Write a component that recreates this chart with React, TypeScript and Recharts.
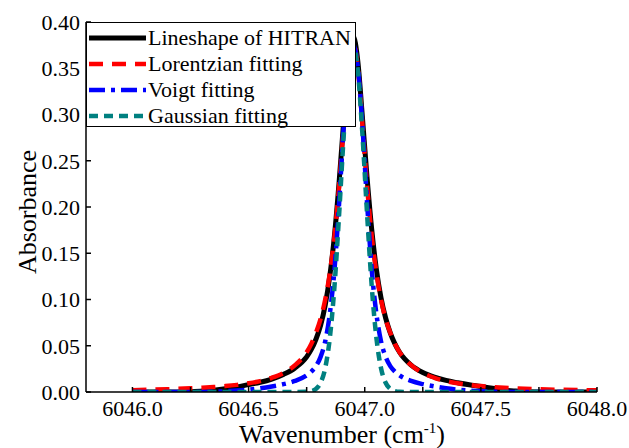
import React from "react";
import { LineChart, Line, XAxis, YAxis } from "recharts";

// wavenumber grid (cm-1), finer around the line centre
const wavenumber = [
  6046.0, 6046.15, 6046.25, 6046.3, 6046.35, 6046.4, 6046.45, 6046.5, 6046.55, 6046.6,
  6046.65, 6046.7, 6046.75, 6046.77, 6046.79, 6046.81, 6046.83, 6046.85, 6046.87, 6046.89,
  6046.91, 6046.93, 6046.95, 6046.97, 6046.99, 6047.01, 6047.03, 6047.05, 6047.07, 6047.09,
  6047.11, 6047.13, 6047.15, 6047.2, 6047.25, 6047.3, 6047.35, 6047.4, 6047.45, 6047.5,
  6047.55, 6047.6, 6047.65, 6047.75, 6047.85, 6047.95, 6048.0,
];

const hitran = [
  0, 0, 0.0003, 0.001, 0.002, 0.0035, 0.0055, 0.008, 0.0105, 0.014,
  0.019, 0.026, 0.038, 0.046, 0.057, 0.072, 0.094, 0.126, 0.17, 0.228,
  0.295, 0.358, 0.385, 0.358, 0.297, 0.232, 0.176, 0.133, 0.102, 0.08,
  0.064, 0.052, 0.043, 0.029, 0.021, 0.016, 0.0125, 0.01, 0.0078, 0.006,
  0.004, 0.002, 0.001, 0, 0, 0, 0,
];

const lorentzian = [
  0.0019, 0.003, 0.004, 0.0046, 0.0054, 0.0064, 0.0077, 0.0094, 0.0118, 0.0154,
  0.0206, 0.029, 0.043, 0.052, 0.064, 0.079, 0.1, 0.129, 0.169, 0.223,
  0.289, 0.351, 0.378, 0.351, 0.289, 0.223, 0.169, 0.129, 0.1, 0.079,
  0.064, 0.052, 0.043, 0.029, 0.0206, 0.0154, 0.0118, 0.0094, 0.0077, 0.0064,
  0.0054, 0.0046, 0.004, 0.003, 0.0024, 0.002, 0.0018,
];

const voigt = [
  0, 0, 0, 0, 0.0003, 0.0008, 0.0015, 0.0025, 0.004, 0.006,
  0.0085, 0.012, 0.018, 0.022, 0.028, 0.038, 0.055, 0.085, 0.133, 0.205,
  0.288, 0.352, 0.376, 0.352, 0.288, 0.205, 0.133, 0.085, 0.055, 0.038,
  0.028, 0.022, 0.018, 0.012, 0.0085, 0.006, 0.004, 0.0025, 0.0015, 0.0008,
  0.0003, 0, 0, 0, 0, 0, 0,
];

const gaussian = [
  0, 0, 0, 0, 0, 0, 0, 0, 0, 0,
  0, 0, 0.0002, 0.0009, 0.0033, 0.01, 0.026, 0.059, 0.115, 0.193,
  0.279, 0.348, 0.375, 0.348, 0.279, 0.193, 0.115, 0.059, 0.026, 0.01,
  0.0033, 0.0009, 0.0002, 0, 0, 0, 0, 0, 0, 0,
  0, 0, 0, 0, 0, 0, 0,
];

const xTicks = [6046.0, 6046.25, 6046.5, 6046.75, 6047.0, 6047.25, 6047.5, 6047.75, 6048.0];
const yTicks = [0, 0.05, 0.1, 0.15, 0.2, 0.25, 0.3, 0.35, 0.4];
const frameTicks = [0, 1, 2, 3, 4, 5, 6, 7, 8, 9, 10];

const series = [
  { key: "hitran", name: "Lineshape of HITRAN", color: "#000000", dash: undefined, width: 5 },
  { key: "lorentzian", name: "Lorentzian fitting", color: "#ff0000", dash: "14 9", width: 4.5 },
  { key: "voigt", name: "Voigt fitting", color: "#0000ff", dash: "16 6 4 6", width: 4.5 },
  { key: "gaussian", name: "Gaussian fitting", color: "#008080", dash: "9 6", width: 4.5 },
];

const data = wavenumber.map((x, i) => ({
  x,
  hitran: hitran[i],
  lorentzian: lorentzian[i],
  voigt: voigt[i],
  gaussian: gaussian[i],
}));

const FONT = '"Liberation Serif", "Times New Roman", serif';

// bottom labels only on the half-unit ticks
const XTick = (props: any) => {
  const v = props.payload.value;
  if ((v * 2) % 1 !== 0) return <g />;
  return (
    <text x={props.x} y={props.y} dy="0.71em" textAnchor="middle" fontFamily={FONT} fontSize={22} fill="#000">
      {v.toFixed(1)}
    </text>
  );
};

const YTick = (props: any) => (
  <text x={props.x} y={props.y} dy="0.355em" textAnchor="end" fontFamily={FONT} fontSize={22} fill="#000">
    {props.payload.value.toFixed(2)}
  </text>
);

const LegendBox = () => (
  <div
    style={{
      position: "absolute",
      left: 86,
      top: 22,
      width: 270,
      height: 105,
      border: "1px solid #000",
      boxSizing: "border-box",
      background: "#fff",
      paddingTop: 2,
    }}
  >
    {series.map((s) => (
      <div key={s.key} style={{ display: "flex", alignItems: "center", height: 26 }}>
        <svg width={60} height={26} style={{ flex: "none" }}>
          <line
            x1={2}
            x2={59}
            y1={13}
            y2={13}
            stroke={s.color}
            strokeWidth={s.width}
            strokeDasharray={s.dash}
          />
        </svg>
        <span style={{ fontFamily: FONT, fontSize: 22, lineHeight: "26px", marginLeft: 1, whiteSpace: "nowrap" }}>
          {s.name}
        </span>
      </div>
    ))}
  </div>
);

export default function App() {
  return (
    <div style={{ position: "absolute", left: 0, top: 0, width: 629, height: 448, background: "#fff" }}>
      <LineChart width={629} height={448} data={data} margin={{ top: 22, right: 32, bottom: 0, left: 0 }}>
        <XAxis
          dataKey="x"
          type="number"
          domain={[6045.8, 6048.0]}
          allowDataOverflow
          ticks={xTicks}
          height={56}
          tickSize={-5}
          tickMargin={13}
          tick={<XTick />}
          stroke="#000"
          strokeWidth={1.5}
        />
        <XAxis
          xAxisId="top"
          orientation="top"
          type="number"
          domain={[0, 10]}
          allowDataOverflow
          ticks={frameTicks}
          tickFormatter={() => ""}
          height={0}
          tickSize={-5}
          stroke="#000"
          strokeWidth={1.5}
        />
        <YAxis
          type="number"
          domain={[0, 0.4]}
          allowDataOverflow
          ticks={yTicks}
          width={86}
          tickSize={-5}
          tickMargin={11}
          tick={<YTick />}
          stroke="#000"
          strokeWidth={1.5}
        />
        <YAxis
          yAxisId="right"
          orientation="right"
          type="number"
          domain={[0, 10]}
          allowDataOverflow
          ticks={frameTicks}
          tickFormatter={() => ""}
          width={0}
          tickSize={-5}
          stroke="#000"
          strokeWidth={1.5}
        />
        {series.map((s) => (
          <Line
            key={s.key}
            dataKey={s.key}
            name={s.name}
            type="monotone"
            stroke={s.color}
            strokeWidth={s.width}
            strokeDasharray={s.dash}
            dot={false}
            activeDot={false}
            isAnimationActive={false}
          />
        ))}
      </LineChart>
      <LegendBox />
      <div
        style={{
          position: "absolute",
          left: 142,
          top: 422,
          width: 400,
          height: 26,
          textAlign: "center",
          fontFamily: FONT,
          fontSize: 26,
          lineHeight: "26px",
          whiteSpace: "nowrap",
        }}
      >
        Wavenumber (cm<sup style={{ fontSize: 15, lineHeight: 0 }}>-1</sup>)
      </div>
      <div
        style={{
          position: "absolute",
          left: -72,
          top: 197,
          width: 200,
          height: 30,
          textAlign: "center",
          fontFamily: FONT,
          fontSize: 26,
          lineHeight: "30px",
          transform: "rotate(-90deg)",
          whiteSpace: "nowrap",
        }}
      >
        Absorbance
      </div>
    </div>
  );
}
